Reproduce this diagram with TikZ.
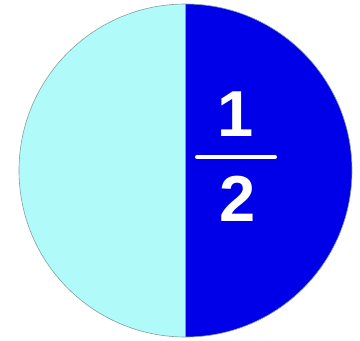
\documentclass[tikz,border=0pt]{standalone}
\usepackage{fontspec}
\setmainfont{Liberation Sans}
\usepackage{xcolor}
\usepackage{tikz}
\usetikzlibrary{positioning,calc}

\definecolor{halfpale}{RGB}{176,250,250}
\definecolor{halfblue}{RGB}{0,0,232}
\definecolor{rimgray}{RGB}{130,160,160}

\begin{document}
\begin{tikzpicture}[
  x=1pt, y=1pt,
  digit/.style={text=white, font=\fontsize{65}{65}\selectfont\bfseries, inner sep=0pt},
  bar/.style={white, line width=4pt, line cap=round}
]
\useasboundingbox (0,0) rectangle (360,341);
\fill[white] (0,0) rectangle (360,341);
\coordinate (centre) at (185.5,170.5);
% left and right halves
\fill[halfpale] (185.5,337) arc[start angle=90, end angle=270, radius=166.5pt] -- cycle;
\fill[halfblue] (185.5,337) arc[start angle=90, end angle=-90, radius=166.5pt] -- cycle;
\draw[rimgray, line width=0.6pt] (centre) circle[radius=166.5pt];
\draw[rimgray, line width=0.5pt] (185.5,337) -- (185.5,4);
% fraction
\node[digit, anchor=base] (num) at (236,204) {1};
\node[digit, anchor=base] (den) at (238,119) {2};
\coordinate (barleft) at (197,184);
\coordinate (barright) at (275,184);
\draw[bar] (barleft) -- (barright);
\end{tikzpicture}
\end{document}
